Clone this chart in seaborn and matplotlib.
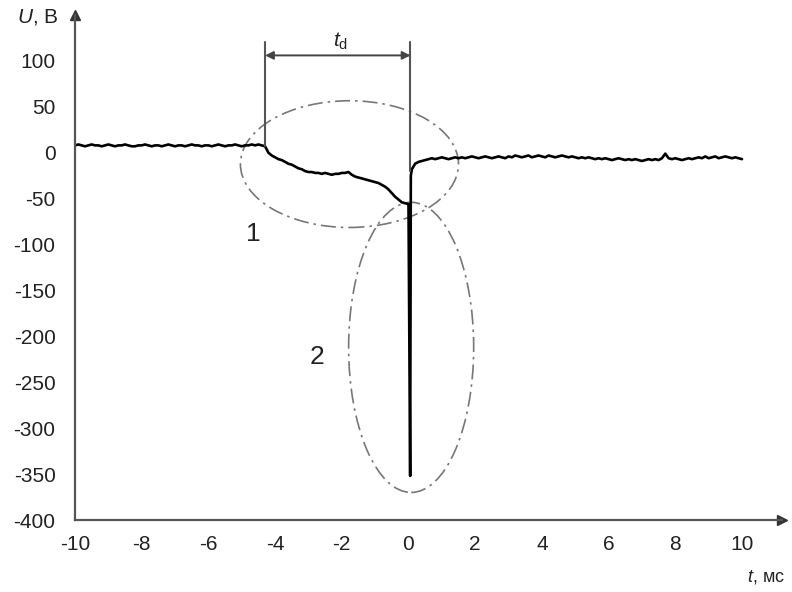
import numpy as np
import matplotlib
matplotlib.use("Agg")
import matplotlib.pyplot as plt
from matplotlib.patches import Ellipse
import seaborn as sns

# --- data (t in ms, U in V) ---
t_pre = np.round(np.arange(-10.0, -4.35, 0.1), 1)
u_pre = [8, 9, 8, 7, 8, 9, 8, 8, 7, 8,
         9, 8, 7, 8, 8, 9, 8, 7, 7, 8,
         8, 9, 8, 7, 8, 8, 7, 8, 9, 8,
         7, 8, 8, 7, 8, 9, 8, 8, 7, 8,
         8, 7, 8, 9, 8, 7, 8, 8, 9, 8,
         7, 8, 8, 9, 8, 9, 8]

t_fall = np.round(np.arange(-4.3, 0.05, 0.1), 1)
u_fall = [7, 0, -3, -5, -7, -8, -10, -12, -13, -15,
          -17, -18, -20, -21, -21, -22, -22, -23, -22, -23,
          -24, -23, -23, -22, -22, -21, -24, -26, -27, -28,
          -29, -30, -31, -32, -33, -35, -37, -40, -44, -48,
          -51, -54, -55, -56]

t_spike = [0.05, 0.07, 0.1, 0.2, 0.3, 0.4, 0.5]
u_spike = [-352, -25, -18, -12, -10, -9, -8]

t_post = np.round(np.arange(0.6, 10.05, 0.1), 1)
u_post = [-7, -6, -7, -6, -5, -6, -7, -6, -5, -6,
          -5, -6, -5, -4, -5, -6, -5, -4, -5, -6,
          -5, -4, -5, -6, -4, -5, -3, -4, -5, -4,
          -3, -5, -4, -3, -4, -5, -3, -4, -5, -4,
          -3, -4, -5, -4, -5, -6, -5, -6, -5, -6,
          -7, -6, -7, -6, -7, -8, -7, -6, -7, -8,
          -7, -8, -7, -8, -9, -8, -7, -8, -7, -8,
          -6, -1, -6, -7, -6, -7, -8, -7, -6, -7,
          -6, -5, -6, -4, -6, -5, -4, -6, -5, -4,
          -5, -6, -5, -6, -7]

t = np.concatenate([t_pre, t_fall, t_spike, t_post])
u = np.concatenate([u_pre, u_fall, u_spike, u_post])

x_ticks = list(range(-10, 11, 2))
y_ticks = list(range(-400, 101, 50))

td_start, td_end = -4.3, 0.06

sns.set_theme(style="white")
plt.rcParams['font.family'] = ['Liberation Sans', 'DejaVu Sans']
plt.rcParams['mathtext.fontset'] = 'custom'
plt.rcParams['mathtext.it'] = 'Liberation Sans:italic'
plt.rcParams['mathtext.rm'] = 'Liberation Sans'

fig = plt.figure(figsize=(7.92, 5.92), dpi=100)
ax = fig.add_axes([75 / 792, 72 / 592, 707 / 792, 505 / 592])

sns.lineplot(x=t, y=u, ax=ax, color='black', lw=1.9, sort=False, estimator=None)

ax.set_xlim(-10, 11.2)
ax.set_ylim(-400, 150)
ax.set_xticks(x_ticks)
ax.set_yticks(y_ticks)
ax.set_xticklabels([str(v) for v in x_ticks])
ax.set_yticklabels([str(v) for v in y_ticks])
ax.tick_params(direction='in', length=5, width=1.2, colors='#444',
               labelsize=15, labelcolor='#222')
ax.tick_params(axis='x', pad=11)
ax.tick_params(axis='y', pad=14)
ax.set_xlabel('')
ax.set_ylabel('')

for side in ['top', 'right']:
    ax.spines[side].set_visible(False)
for side in ['left', 'bottom']:
    ax.spines[side].set_color('#555')
    ax.spines[side].set_linewidth(1.6)

# axis arrows
ax.plot([1], [0], marker='>', color='#333', ms=7, transform=ax.transAxes, clip_on=False)
ax.plot([0], [1], marker='^', color='#333', ms=7, transform=ax.transAxes, clip_on=False)

ax.text(-10.5, 148, '$U$, В', ha='right', va='center', fontsize=15, color='#222', clip_on=False)
ax.text(11.3, -462, '$t$, мс', ha='right', va='center', fontsize=13, color='#222', clip_on=False)

# t_d marker
ax.plot([td_start, td_start], [7, 121], color='#555', lw=1.5)
ax.plot([td_end, td_end], [-20, 121], color='#555', lw=1.5)
ax.annotate('', xy=(td_start, 106), xytext=(td_end, 106),
            arrowprops=dict(arrowstyle='<|-|>', color='#444', lw=1.4,
                            shrinkA=0, shrinkB=0, mutation_scale=12))
ax.text(-2.05, 121, r'$t_{\mathrm{d}}$', ha='center', va='center', fontsize=15, color='#222')

# highlighted regions
dash = (0, (9, 3, 1.5, 3))
ax.add_patch(Ellipse((-1.77, -12.4), 6.54, 138, fill=False, ec='#777', lw=1.2, ls=dash))
ax.add_patch(Ellipse((0.08, -212), 3.75, 316, fill=False, ec='#777', lw=1.2, ls=dash))
ax.text(-4.65, -89, '1', ha='center', va='center', fontsize=19, color='#222')
ax.text(-2.73, -222, '2', ha='center', va='center', fontsize=19, color='#222')

fig.savefig('out.png', dpi=100)
